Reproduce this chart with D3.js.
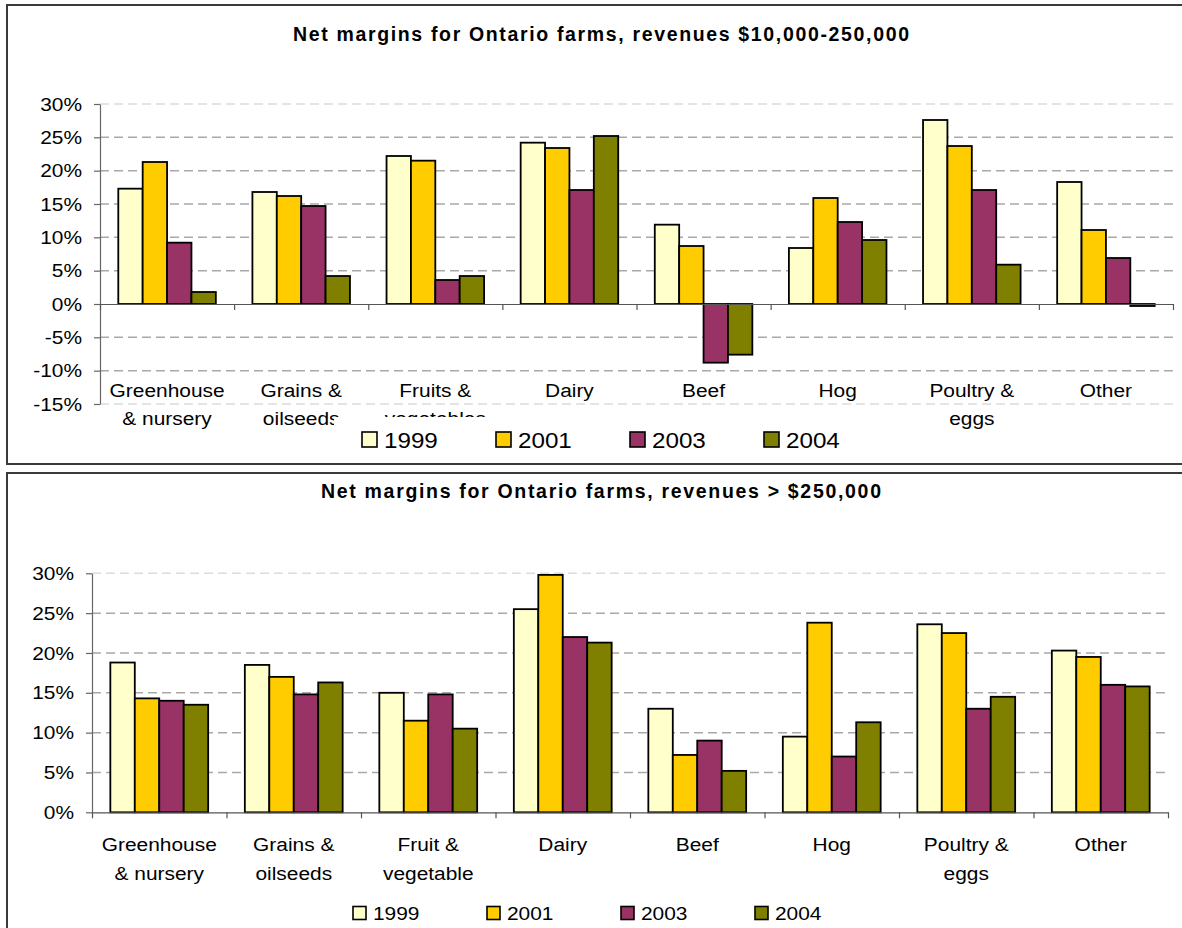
<!DOCTYPE html>
<html>
<head>
<meta charset="utf-8">
<script src="https://cdn.jsdelivr.net/npm/d3@7/dist/d3.min.js"></script>
<style>
  html, body { margin: 0; padding: 0; background: #fff; }
  svg { display: block; }
  text { font-family: "Liberation Sans", Arial, sans-serif; fill: #000; }
</style>
</head>
<body>
<svg id="chart" width="1182" height="928"></svg>
<script>
// Net margins by farm type, two revenue classes (percent)
const years = ["1999", "2001", "2003", "2004"];
const colors = ["#FFFFCC", "#FFCC00", "#993366", "#808000"];

const categoriesSmall = [
  ["Greenhouse", "& nursery"], ["Grains &", "oilseeds"], ["Fruits &", "vegetables"],
  ["Dairy"], ["Beef"], ["Hog"], ["Poultry &", "eggs"], ["Other"]
];
const categoriesLarge = [
  ["Greenhouse", "& nursery"], ["Grains &", "oilseeds"], ["Fruit &", "vegetable"],
  ["Dairy"], ["Beef"], ["Hog"], ["Poultry &", "eggs"], ["Other"]
];

// revenues $10,000-250,000
const small1999 = [17.3, 16.8, 22.2, 24.2, 11.9, 8.4, 27.6, 18.3];
const small2001 = [21.3, 16.2, 21.5, 23.4, 8.7, 15.9, 23.7, 11.1];
const small2003 = [9.2, 14.7, 3.6, 17.1, -8.8, 12.3, 17.1, 6.9];
const small2004 = [1.8, 4.2, 4.2, 25.2, -7.6, 9.6, 5.9, -0.3];

// revenues > $250,000
const large1999 = [18.8, 18.5, 15.0, 25.5, 13.0, 9.5, 23.6, 20.3];
const large2001 = [14.3, 17.0, 11.5, 29.8, 7.2, 23.8, 22.5, 19.5];
const large2003 = [14.0, 14.8, 14.8, 22.0, 9.0, 7.0, 13.0, 16.0];
const large2004 = [13.5, 16.3, 10.5, 21.3, 5.2, 11.3, 14.5, 15.8];

const ticksSmall = [-15, -10, -5, 0, 5, 10, 15, 20, 25, 30];
const ticksLarge = [0, 5, 10, 15, 20, 25, 30];

const titleSmall = "Net margins for Ontario farms, revenues $10,000-250,000";
const titleLarge = "Net margins for Ontario farms, revenues > $250,000";

const svg = d3.select("#chart");
const SX = 1.1; // horizontal stretch of the label type

// outer frames
svg.append("rect").attr("x", 7).attr("y", 5).attr("width", 1200).attr("height", 459)
  .attr("fill", "none").attr("stroke", "#3a3a3a").attr("stroke-width", 2);
svg.append("rect").attr("x", 7).attr("y", 473).attr("width", 1200).attr("height", 500)
  .attr("fill", "none").attr("stroke", "#3a3a3a").attr("stroke-width", 2);

function stretchedText(g, x, y, str, size, anchor, sx, weight) {
  return g.append("text")
    .attr("transform", `translate(${x},${y}) scale(${sx},1)`)
    .attr("text-anchor", anchor)
    .attr("font-size", size)
    .attr("font-weight", weight || "normal")
    .text(str);
}

function drawPanel(cfg) {
  const g = svg.append("g");
  const { x0, x1, yTop, yBottom, domain, ticks, cats, series } = cfg;

  const y = d3.scaleLinear().domain(domain).range([yBottom, yTop]);
  const x = d3.scaleBand().domain(d3.range(cats.length)).range([x0, x1]).padding(0);
  const bw = x.bandwidth();
  const inner = d3.scaleBand().domain(years)
    .range([bw * 0.75 / 5.5, bw * 4.75 / 5.5]).padding(0);

  // title
  g.append("text")
    .attr("x", cfg.titleX).attr("y", cfg.titleY)
    .attr("text-anchor", "middle")
    .attr("font-size", 19.5).attr("font-weight", "bold")
    .attr("textLength", cfg.titleW).attr("lengthAdjust", "spacing")
    .text(cfg.title);

  // dashed gridlines
  g.append("g").selectAll("line").data(ticks.filter(t => t !== 0)).join("line")
    .attr("x1", x0).attr("x2", x1)
    .attr("y1", d => y(d)).attr("y2", d => y(d))
    .attr("stroke", d => (d === domain[0] || d === domain[1]) ? "#dcdcdc" : "#a8a8a8")
    .attr("stroke-width", 1.5)
    .attr("stroke-dasharray", "9,5");

  // y axis
  const yAxis = g.append("g").attr("transform", `translate(${x0},0)`)
    .call(d3.axisLeft(y).tickValues(ticks).tickSize(6).tickPadding(12)
      .tickSizeOuter(0).tickFormat(d => d + "%"));
  yAxis.select(".domain").attr("stroke", "#666").attr("stroke-width", 1.2);
  yAxis.selectAll(".tick line").attr("stroke", "#666").attr("stroke-width", 1.2);
  yAxis.selectAll(".tick text")
    .attr("font-size", 19)
    .attr("font-family", "Liberation Sans, Arial, sans-serif")
    .attr("fill", "#000")
    .attr("x", -18 / SX)
    .attr("transform", `scale(${SX},1)`);

  // bars
  series.forEach((vals, si) => {
    g.append("g").selectAll("rect").data(vals).join("rect")
      .attr("x", (d, i) => x(i) + inner(years[si]))
      .attr("width", inner.bandwidth())
      .attr("y", d => y(Math.max(0, d)))
      .attr("height", d => Math.abs(y(d) - y(0)))
      .attr("fill", colors[si])
      .attr("stroke", "#000").attr("stroke-width", 1.8);
  });

  // category axis at zero with boundary ticks
  const xb = d3.scaleLinear().domain([0, cats.length]).range([x0, x1]);
  const xAxis = g.append("g").attr("transform", `translate(0,${y(0)})`)
    .call(d3.axisBottom(xb).tickValues(d3.range(cats.length + 1))
      .tickSize(6).tickSizeOuter(0).tickFormat(""));
  xAxis.select(".domain").attr("stroke", "#555").attr("stroke-width", 1.2);
  xAxis.selectAll(".tick line").attr("stroke", "#555").attr("stroke-width", 1.2);

  // category labels
  cats.forEach((lines, i) => {
    lines.forEach((ln, li) => {
      stretchedText(g, x(i) + bw / 2, cfg.labelY + li * cfg.labelStep, ln, 19, "middle", SX);
    });
  });

  // legend (opaque box sits over the labels it overlaps)
  if (cfg.legendBox) {
    g.append("rect").attr("x", cfg.legendBox[0]).attr("y", cfg.legendBox[1])
      .attr("width", cfg.legendBox[2]).attr("height", cfg.legendBox[3]).attr("fill", "#fff");
  }
  years.forEach((yr, i) => {
    const lx = cfg.legendX + i * 134;
    g.append("rect").attr("x", lx).attr("y", cfg.legendY - cfg.legendSq)
      .attr("width", cfg.legendSq).attr("height", cfg.legendSq)
      .attr("fill", colors[i]).attr("stroke", "#000").attr("stroke-width", 1.6);
    stretchedText(g, lx + cfg.legendSq + 7, cfg.legendY + 0.5, yr, cfg.legendFont, "start", SX);
  });
}

drawPanel({
  title: titleSmall, titleX: 601, titleY: 40.5, titleW: 616,
  x0: 100, x1: 1173, yTop: 104, yBottom: 404, domain: [-15, 30], ticks: ticksSmall,
  cats: categoriesSmall,
  series: [small1999, small2001, small2003, small2004],
  labelY: 397, labelStep: 28,
  legendBox: [334, 417, 540, 45],
  legendX: 362, legendY: 447, legendSq: 15, legendFont: 22
});

drawPanel({
  title: titleLarge, titleX: 601, titleY: 498, titleW: 560,
  x0: 92, x1: 1168, yTop: 573.3, yBottom: 812.3, domain: [0, 30], ticks: ticksLarge,
  cats: categoriesLarge,
  series: [large1999, large2001, large2003, large2004],
  labelY: 851, labelStep: 29,
  legendBox: null,
  legendX: 353, legendY: 919.5, legendSq: 13, legendFont: 19
});
</script>
</body>
</html>
